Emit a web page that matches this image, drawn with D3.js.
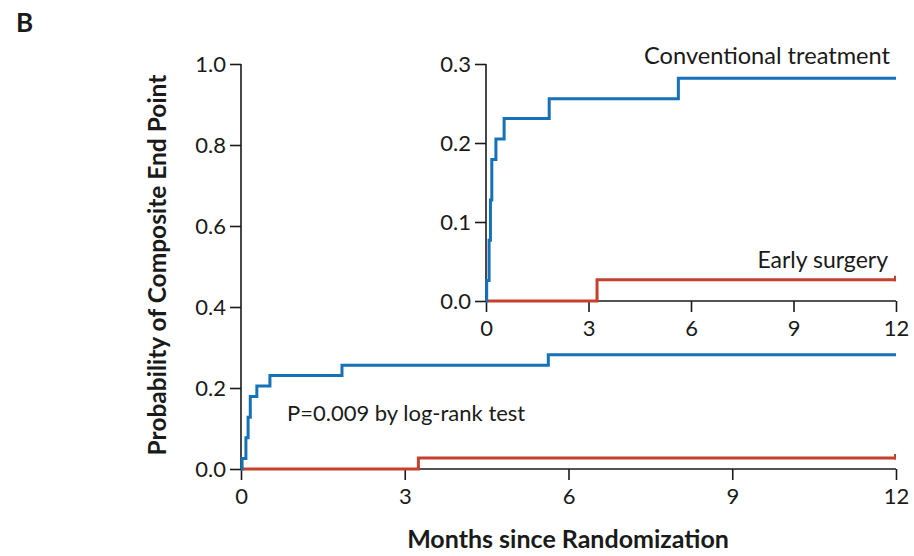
<!DOCTYPE html>
<html>
<head>
<meta charset="utf-8">
<script src="https://cdn.jsdelivr.net/npm/d3@7"></script>
<style>
  html, body { margin: 0; padding: 0; background: #fff; }
  svg { display: block; font-family: Lato, "Open Sans", sans-serif; }
</style>
</head>
<body>
<svg id="chart" width="914" height="556"></svg>
<script>
// ---- data ----
const monthTicks = [0, 3, 6, 9, 12];
const mainYTicks = [0, 0.2, 0.4, 0.6, 0.8, 1.0];
const insetYTicks = [0, 0.1, 0.2, 0.3];
const conventionalTimes  = [0, 0.02, 0.09, 0.13, 0.17, 0.29, 0.53, 1.85, 5.63, 12];
const conventionalValues = [0, 0.026, 0.077, 0.128, 0.179, 0.205, 0.231, 0.256, 0.282, 0.282];
const earlyTimes  = [0, 3.25, 12];
const earlyValues = [0, 0.027, 0.027];
const seriesNames = ["Conventional treatment", "Early surgery"];
const panelLabel = "B";
const pText = "P=0.009 by log-rank test";
const xTitle = "Months since Randomization";
const yTitle = "Probability of Composite End Point";

const BLUE = "#1572b8", RED = "#c4412c", INK = "#1a1a1a";

const svg = d3.select("#chart");

const conv = conventionalTimes.map((t, i) => ({t, v: conventionalValues[i]}));
const early = earlyTimes.map((t, i) => ({t, v: earlyValues[i]}));

function drawPanel(g, x, y, yTicks, fmt, fontSize) {
  const xAxis = d3.axisBottom(x).tickValues(monthTicks).tickSize(11).tickPadding(8).tickFormat(d3.format("d"));
  const yAxis = d3.axisLeft(y).tickValues(yTicks).tickSize(11).tickPadding(4).tickFormat(d3.format(fmt));
  const gx = g.append("g").attr("transform", `translate(0,${y(0)})`).call(xAxis);
  const gy = g.append("g").attr("transform", `translate(${x(0)},0)`).call(yAxis);
  [gx, gy].forEach(a => {
    a.select(".domain").attr("stroke", INK).attr("stroke-width", 1.6);
    a.selectAll(".tick line").attr("stroke", INK).attr("stroke-width", 1.6);
    a.selectAll(".tick text").attr("fill", INK).style("font-size", fontSize + "px")
      .style("font-family", "Lato, sans-serif");
  });
  gx.select(".domain").attr("d", `M${x.range()[0]},0H${x.range()[1]}`);
  gy.select(".domain").attr("d", `M0,${y.range()[1]}V${y.range()[0]}`);

  const line = d3.line().x(d => x(d.t)).y(d => y(d.v)).curve(d3.curveStepAfter);
  g.append("path").datum(early).attr("d", line).attr("fill", "none")
    .attr("stroke", RED).attr("stroke-width", 3);
  g.append("path").datum(conv).attr("d", line).attr("fill", "none")
    .attr("stroke", BLUE).attr("stroke-width", 3);
  // censor mark at end of early-surgery curve
  const last = early[early.length - 1];
  g.append("line").attr("x1", x(last.t) - 1).attr("x2", x(last.t) - 1)
    .attr("y1", y(last.v) + 1.5).attr("y2", y(last.v) - 4)
    .attr("stroke", RED).attr("stroke-width", 2);
}

// main panel
const xMain = d3.scaleLinear().domain([0, 12]).range([241, 896]);
const yMain = d3.scaleLinear().domain([0, 1]).range([469, 64]);
drawPanel(svg.append("g"), xMain, yMain, mainYTicks, ".1f", 22);

// inset
const xIn = d3.scaleLinear().domain([0, 12]).range([486, 896]);
const yIn = d3.scaleLinear().domain([0, 0.3]).range([301, 64]);
drawPanel(svg.append("g"), xIn, yIn, insetYTicks, ".1f", 22);

// texts
svg.append("text").attr("x", 16).attr("y", 32).text(panelLabel)
  .attr("fill", INK).style("font-weight", 700).style("font-size", "26px");

svg.append("text").attr("x", 890).attr("y", 64).attr("text-anchor", "end")
  .text(seriesNames[0]).attr("fill", INK).style("font-size", "23.6px");
svg.append("text").attr("x", 888).attr("y", 268).attr("text-anchor", "end")
  .text(seriesNames[1]).attr("fill", INK).style("font-size", "23px");

svg.append("text").attr("x", 287).attr("y", 421).text(pText)
  .attr("fill", INK).style("font-size", "22px");

svg.append("text").attr("x", 568).attr("y", 548).attr("text-anchor", "middle")
  .text(xTitle).attr("fill", INK).style("font-weight", 700).style("font-size", "25px");

svg.append("text").attr("transform", "translate(166,265) rotate(-90)")
  .attr("text-anchor", "middle").text(yTitle)
  .attr("fill", INK).style("font-weight", 700).style("font-size", "24.5px");
</script>
</body>
</html>
